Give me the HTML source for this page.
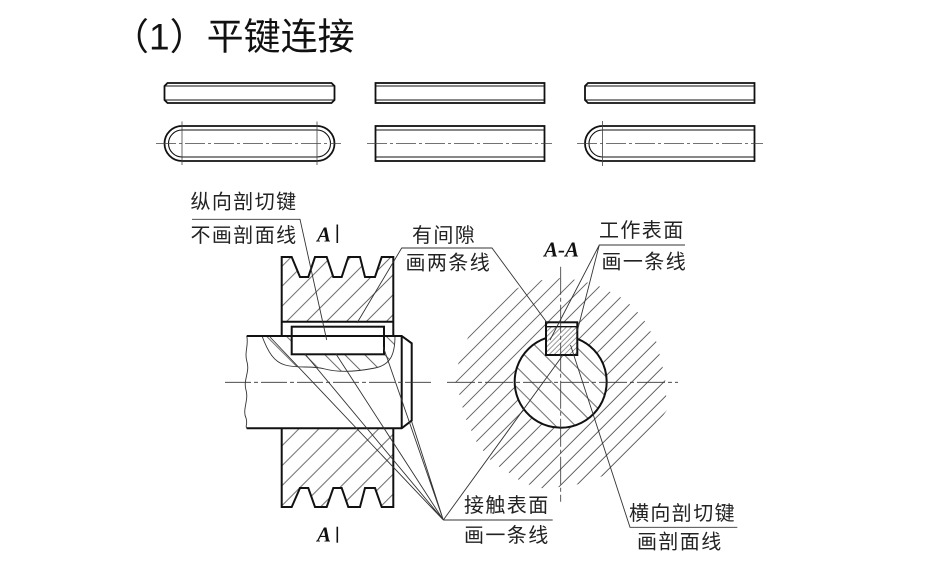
<!DOCTYPE html>
<html>
<head>
<meta charset="utf-8">
<style>
  html,body{margin:0;padding:0;background:#fff;}
  svg{display:block;}
  .lbl{font-family:"Liberation Sans","Noto Sans CJK SC",sans-serif;font-size:20px;fill:#222;letter-spacing:1.4px;}
  .aa{font-family:"Liberation Serif",serif;font-style:italic;font-weight:bold;font-size:21px;fill:#111;}
</style>
</head>
<body>
<svg width="941" height="570" viewBox="0 0 941 570" xmlns="http://www.w3.org/2000/svg">
  <defs>
    <pattern id="hubL" width="10" height="14.1" patternUnits="userSpaceOnUse" patternTransform="rotate(-45)">
      <line x1="-1" y1="7" x2="11" y2="7" stroke="#444" stroke-width="0.8"/>
    </pattern>
    <pattern id="shaftL" width="10" height="14.1" patternUnits="userSpaceOnUse" patternTransform="rotate(45)">
      <line x1="-1" y1="7" x2="11" y2="7" stroke="#444" stroke-width="0.8"/>
    </pattern>
    <pattern id="hubR" width="10" height="11.3" patternUnits="userSpaceOnUse" patternTransform="rotate(-45)">
      <line x1="-1" y1="5" x2="11" y2="5" stroke="#444" stroke-width="0.8"/>
    </pattern>
    <pattern id="shaftR" width="10" height="14.1" patternUnits="userSpaceOnUse" patternTransform="rotate(45)">
      <line x1="-1" y1="7" x2="11" y2="7" stroke="#444" stroke-width="0.8"/>
    </pattern>
    <pattern id="keyR" width="10" height="3.6" patternUnits="userSpaceOnUse" patternTransform="rotate(-45)">
      <line x1="-1" y1="1.8" x2="11" y2="1.8" stroke="#555" stroke-width="0.6"/>
    </pattern>
  </defs>
  <rect width="941" height="570" fill="#fff"/>

  <!-- Title -->
  <text x="112" y="49.5" font-size="37" font-family="'Liberation Sans','Noto Sans CJK SC',sans-serif" fill="#111">（1）平键连接</text>

  <!-- Row 1 keys -->
  <g fill="none" stroke="#111" stroke-width="1.8">
    <path d="M167.5,83 H331.5 L334.5,86 V100 L331.5,103 H167.5 L164.5,100 V86 Z"/>
    <rect x="375.5" y="83" width="169" height="20"/>
    <path d="M588,83 H754.5 V103 H588 L585,100 V86 Z"/>
  </g>
  <g fill="none" stroke="#111" stroke-width="1.1">
    <path d="M164.5,86 H334.5 M164.5,100 H334.5"/>
    <path d="M375.5,86 H544.5 M375.5,100 H544.5"/>
    <path d="M585,86 H754.5 M585,100 H754.5"/>
  </g>

  <!-- Row 2 keys -->
  <g fill="none" stroke="#111" stroke-width="1.8">
    <rect x="164.5" y="126" width="170" height="35" rx="17.5"/>
    <rect x="375.5" y="126" width="169" height="35"/>
    <path d="M754.5,126 H602.5 A17.5,17.5 0 0 0 602.5,161 H754.5 Z"/>
  </g>
  <g fill="none" stroke="#111" stroke-width="1.1">
    <rect x="168.5" y="130" width="162" height="27" rx="13.5"/>
    <path d="M375.5,130 H544.5 M375.5,157 H544.5"/>
    <path d="M754.5,130 H602.5 A13.5,13.5 0 0 0 602.5,157 H754.5"/>
  </g>
  <g fill="none" stroke="#444" stroke-width="0.8">
    <path d="M156,143.5 H341 M367,143.5 H552 M577,143.5 H763" stroke-dasharray="20 3 3 3"/>
    <path d="M182,121.5 V165 M317,121.5 V165 M602.5,121 V166"/>
  </g>

  <!-- ===== Left view (longitudinal section) ===== -->
  <path d="M281.7,321.7 V257 H291.7 L300,277 H308.3 L315,257 H326.7 L333.3,277 H341.7 L348.3,257 H360 L365,277 H375 L381.7,257 H393.3 V321.7 Z" fill="url(#hubL)"/>
  <path d="M281.7,428.3 V507 H291.7 L300,488 H308.3 L315,507 H326.7 L333.3,488 H341.7 L348.3,507 H360 L365,488 H375 L381.7,507 H393.3 V428.3 Z" fill="url(#hubL)"/>
  <path d="M262,336 C268,352 274,362 285,365 C300,369 310,365 325,369 C340,373 360,371 375,368 C390,365 395,355 395,336 Z" fill="url(#shaftL)"/>
  <rect x="291.7" y="326.7" width="92.3" height="27.6" fill="#fff" stroke="#111" stroke-width="2"/>

  <g fill="none" stroke="#333" stroke-width="0.9">
    <path d="M262,336 C268,352 274,362 285,365 C300,369 310,365 325,369 C340,373 360,371 375,368 C390,365 395,355 395,336"/>
    <path d="M246.7,336 C249,345 244,352 247,362 C250,372 243,380 246,390 C249,400 242,410 246,418 C248,424 245,426 246.7,428.3"/>
  </g>

  <g fill="none" stroke="#111" stroke-width="2" stroke-linejoin="miter">
    <path d="M281.7,336 V257 H291.7 L300,277 H308.3 L315,257 H326.7 L333.3,277 H341.7 L348.3,257 H360 L365,277 H375 L381.7,257 H393.3 V336"/>
    <path d="M281.7,321.7 H393.3"/>
    <path d="M281.7,428.3 V507 H291.7 L300,488 H308.3 L315,507 H326.7 L333.3,488 H341.7 L348.3,507 H360 L365,488 H375 L381.7,507 H393.3 V428.3"/>
    <path d="M246.7,336 H401.7 L411.7,343.3 V420.5 L401.7,428.3 H246.7"/>
    <path d="M401.7,336 V428.3"/>
  </g>

  <path d="M225,382.3 H431" stroke="#333" stroke-width="0.8" fill="none" stroke-dasharray="26 3 4 3"/>

  <text class="aa" x="317" y="241.7">A</text>
  <path d="M337.3,224.5 V243" stroke="#111" stroke-width="1.6"/>
  <text class="aa" x="317" y="541.7">A</text>
  <path d="M337.3,526.7 V542.7" stroke="#111" stroke-width="1.6"/>

  <!-- ===== Right view (A-A section) ===== -->
  <path d="M455,380 L460,355 L476,320 L506,293 L535,281 L558,278 L578,280 L597,285 L622,298 L633,307 L643,318 L657,343 L665,377 L667,410 L653,430 L640,450 L620,470 L580,484 L545,489 L523,483 L508,472 L493,463 L477,443 L465,417 L460,397 Z" fill="url(#hubR)"/>
  <circle cx="560.8" cy="381.7" r="46" fill="#fff"/>
  <rect x="546" y="322.3" width="31.3" height="32.7" fill="#fff"/>
  <circle cx="560.8" cy="381.7" r="46" fill="url(#shaftR)"/>
  <rect x="546" y="322.3" width="31.3" height="32.7" fill="#fff"/>
  <rect x="546" y="326.7" width="31.3" height="28.3" fill="url(#keyR)"/>
  <g fill="none" stroke="#111" stroke-width="2">
    <path d="M546,338.1 A46,46 0 1 0 577.3,338.8"/>
    <rect x="546" y="322.3" width="31.3" height="32.7"/>
  </g>
  <path d="M546,326.7 H577.3" stroke="#111" stroke-width="1.4"/>
  <g fill="none" stroke="#333" stroke-width="0.8">
    <path d="M447,382.3 H678" stroke-dasharray="28 3 4 3"/>
    <path d="M560.7,266.7 V501.7" stroke-dasharray="28 3 4 3"/>
  </g>
  <text class="aa" x="544" y="256.7">A-A</text>

  <!-- ===== Labels & leaders ===== -->
  <text class="lbl" x="190.5" y="208.5">纵向剖切键</text>
  <text class="lbl" x="190.5" y="241.8">不画剖面线</text>
  <text class="lbl" x="412" y="242">有间隙</text>
  <text class="lbl" x="405.5" y="269.5">画两条线</text>
  <text class="lbl" x="599" y="237">工作表面</text>
  <text class="lbl" x="601.5" y="268.5">画一条线</text>
  <text class="lbl" x="464" y="512">接触表面</text>
  <text class="lbl" x="464" y="542">画一条线</text>
  <text class="lbl" x="629" y="520">横向剖切键</text>
  <text class="lbl" x="637" y="548.5">画剖面线</text>

  <g fill="none" stroke="#333" stroke-width="0.9">
    <path d="M192,219.3 H300 L326.7,340"/>
    <path d="M357,323 L401.7,248 H492 L548,324"/>
    <path d="M685,245 H599.3 L550,340 M599.3,245 L577.3,331"/>
    <path d="M552.7,520 H443.3"/>
    <path d="M443.3,520 L270,337 M443.3,520 L305,354 M443.3,520 L336,354 M443.3,520 L383.3,347 M443.3,520 L411.7,421.7 M443.3,520 L563,355"/>
    <path d="M737.3,527.3 H630 L570.5,345"/>
  </g>
</svg>
</body>
</html>
